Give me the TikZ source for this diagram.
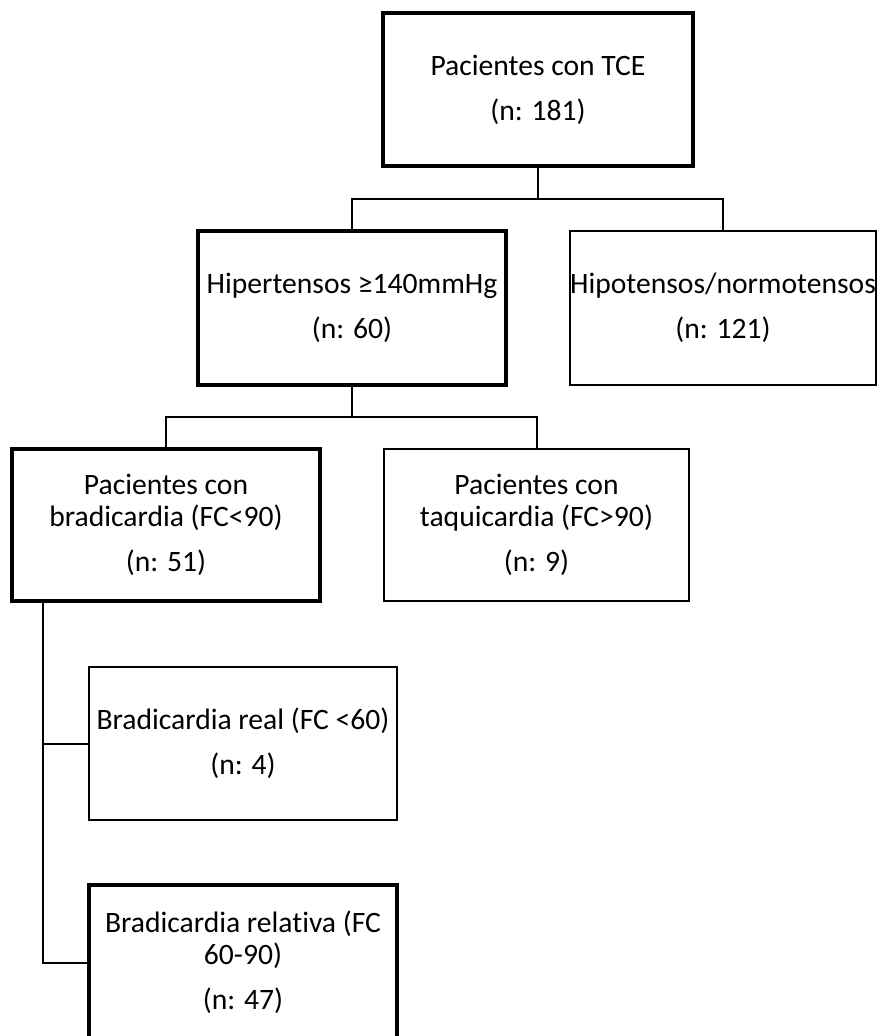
\documentclass[tikz,border=0pt]{standalone}
\usepackage{fontspec}
\setmainfont{Carlito}[Ligatures=NoCommon]
\begin{document}
\begin{tikzpicture}[x=0.75pt,y=-0.75pt,
  box/.style={draw=black, rectangle, inner sep=0pt, outer sep=0pt, align=center,
    font=\fontsize{22.2pt}{24pt}\selectfont, line width=1.5pt},
  thickbox/.style={box, line width=2.6pt},
  conn/.style={draw=black, line width=1.5pt}]
\fill[white] (0,0) rectangle (881,1036);
\useasboundingbox (0,0) rectangle (881,1036);

\node[thickbox, minimum width=232.5pt, minimum height=114.75pt] (b1) at (538,89.5)
  {Pacientes con TCE\\[9.75pt](n: 181)};
\node[thickbox, minimum width=231pt, minimum height=115.5pt] (b2) at (352,308)
  {Hipertensos ≥140mmHg\\[9.75pt](n: 60)};
\node[box, minimum width=229.5pt, minimum height=115.5pt] (b3) at (723,308)
  {Hipotensos/normotensos\\[9.75pt](n: 121)};
\node[thickbox, minimum width=231pt, minimum height=114pt] (b4) at (166,525)
  {Pacientes con\\bradicardia (FC<90)\\[9.75pt](n: 51)};
\node[box, minimum width=228.75pt, minimum height=114pt] (b5) at (536.5,525)
  {Pacientes con\\taquicardia (FC>90)\\[9.75pt](n: 9)};
\node[box, minimum width=231pt, minimum height=114.75pt] (b6) at (243,743.5)
  {Bradicardia real (FC <60)\\[9.75pt](n: 4)};
\node[thickbox, minimum width=231pt, minimum height=116.25pt] (b7) at (243,962.5)
  {Bradicardia relativa (FC\\60-90)\\[9.75pt](n: 47)};

\coordinate (j1) at (538,199);
\coordinate (j2) at (352,417);
\coordinate (j3) at (43,601);

\draw[conn] (b1.south) -- (j1);
\draw[conn] (j1) -| (b2.north);
\draw[conn] (j1) -| (b3.north);
\draw[conn] (b2.south) -- (j2);
\draw[conn] (j2) -| (b4.north);
\draw[conn] (j2) -| (b5.north);
\draw[conn] (j3) |- (b6.west);
\draw[conn] (j3) |- (b7.west);
\end{tikzpicture}
\end{document}
